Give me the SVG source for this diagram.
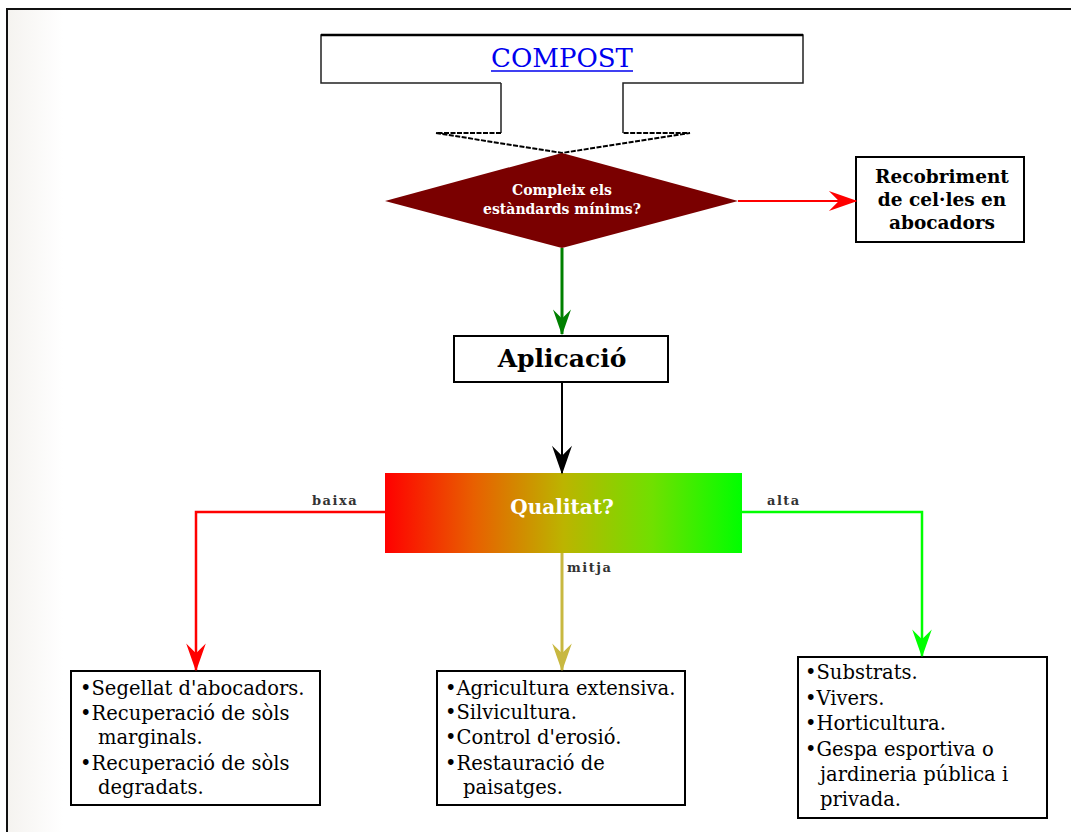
<svg xmlns="http://www.w3.org/2000/svg" width="1071" height="832" viewBox="0 0 1071 832">
<defs>
<linearGradient id="edge" x1="0" y1="0" x2="1" y2="0">
<stop offset="0" stop-color="#f5f3f0"/>
<stop offset="1" stop-color="#ffffff"/>
</linearGradient>
<linearGradient id="qual" x1="0" y1="0" x2="1" y2="0">
<stop offset="0" stop-color="#ff0000"/>
<stop offset="0.25" stop-color="#e86000"/>
<stop offset="0.5" stop-color="#bcb400"/>
<stop offset="0.75" stop-color="#70e000"/>
<stop offset="1" stop-color="#00ff00"/>
</linearGradient>
<marker id="aR" viewBox="0 0 20 14" refX="19" refY="7" markerWidth="30" markerHeight="20" markerUnits="userSpaceOnUse" orient="auto"><path d="M0,0 L20,7 L0,14 L7,7 z" fill="#ff0000"/></marker>
<marker id="aG" viewBox="0 0 20 14" refX="19" refY="7" markerWidth="28" markerHeight="18" markerUnits="userSpaceOnUse" orient="auto"><path d="M0,0 L20,7 L0,14 L7,7 z" fill="#008000"/></marker>
<marker id="aK" viewBox="0 0 20 14" refX="19" refY="7" markerWidth="30" markerHeight="20" markerUnits="userSpaceOnUse" orient="auto"><path d="M0,0 L20,7 L0,14 L7,7 z" fill="#000000"/></marker>
<marker id="aR2" viewBox="0 0 20 14" refX="19" refY="7" markerWidth="28" markerHeight="20" markerUnits="userSpaceOnUse" orient="auto"><path d="M0,0 L20,7 L0,14 L7,7 z" fill="#ff0000"/></marker>
<marker id="aY" viewBox="0 0 20 14" refX="19" refY="7" markerWidth="28" markerHeight="20" markerUnits="userSpaceOnUse" orient="auto"><path d="M0,0 L20,7 L0,14 L7,7 z" fill="#c8b840"/></marker>
<marker id="aL" viewBox="0 0 20 14" refX="19" refY="7" markerWidth="28" markerHeight="20" markerUnits="userSpaceOnUse" orient="auto"><path d="M0,0 L20,7 L0,14 L7,7 z" fill="#00ff00"/></marker>
</defs>
<style>
.box{fill:#ffffff;stroke:#000;stroke-width:2}
.t{font-family:"DejaVu Serif","Liberation Serif",serif;fill:#000}
.b{font-weight:bold}
.li{font-size:19.5px}
.lbl{font-family:"DejaVu Serif","Liberation Serif",serif;font-size:13px;font-weight:bold;fill:#333;letter-spacing:1.5px}
.c{fill:none}
</style>
<rect x="0" y="0" width="1071" height="832" fill="#ffffff"/>
<rect x="8" y="10" width="55" height="822" fill="url(#edge)"/>
<path d="M7,832 V9 H1071" fill="none" stroke="#111" stroke-width="2"/>

<g id="compost">
<path d="M501,83 H321 V35 H803 V83 H623 V133 M501,83 V133" fill="#fff" stroke="#222" stroke-width="1.5"/>
<path d="M321,35 H803" stroke="#000" stroke-width="2.5"/>
<path d="M501,133 H436 L562,153 L690,133 H623" fill="none" stroke="#000" stroke-width="2" stroke-dasharray="5,1.5"/>
<text class="t" x="562" y="67" text-anchor="middle" font-size="26" style="fill:#0000ee">COMPOST</text>
<line x1="491" y1="71" x2="633" y2="71" stroke="#0000ee" stroke-width="1.5"/>
</g>

<g id="decisio">
<polygon points="385,201 562,153 738,201 562,248" fill="#7a0000"/>
<text class="t b" x="562" y="195" text-anchor="middle" font-size="14" style="fill:#fff">Compleix els</text>
<text class="t b" x="562" y="214" text-anchor="middle" font-size="14" style="fill:#fff">estàndards mínims?</text>
</g>

<g id="recobriment">
<rect class="box" x="856" y="157" width="168" height="85"/>
<text class="t b" x="942" y="183" text-anchor="middle" font-size="18.5">Recobriment</text>
<text class="t b" x="942" y="206" text-anchor="middle" font-size="18.5">de cel·les en</text>
<text class="t b" x="942" y="229" text-anchor="middle" font-size="18.5">abocadors</text>
</g>

<g id="aplicacio">
<rect class="box" x="454" y="336" width="214" height="46"/>
<text class="t b" x="562" y="367" text-anchor="middle" font-size="25">Aplicació</text>
</g>

<g id="qualitat">
<rect x="385" y="473" width="357" height="80" fill="url(#qual)"/>
<text class="t b" x="562" y="514" text-anchor="middle" font-size="20" style="fill:#fff">Qualitat?</text>
</g>

<g id="baixa">
<rect class="box" x="71" y="671" width="249" height="134"/>
<text class="t li" x="80" y="695">•Segellat d'abocadors.</text>
<text class="t li" x="80" y="720">•Recuperació de sòls</text>
<text class="t li" x="98" y="744">marginals.</text>
<text class="t li" x="80" y="770">•Recuperació de sòls</text>
<text class="t li" x="98" y="794">degradats.</text>
</g>

<g id="mitja">
<rect class="box" x="437" y="671" width="248" height="134"/>
<text class="t li" x="445" y="695">•Agricultura extensiva.</text>
<text class="t li" x="445" y="719">•Silvicultura.</text>
<text class="t li" x="445" y="744">•Control d'erosió.</text>
<text class="t li" x="445" y="770">•Restauració de</text>
<text class="t li" x="463" y="794">paisatges.</text>
</g>

<g id="alta">
<rect class="box" x="798" y="657" width="249" height="161"/>
<text class="t li" x="805" y="679">•Substrats.</text>
<text class="t li" x="805" y="705">•Vivers.</text>
<text class="t li" x="805" y="730">•Horticultura.</text>
<text class="t li" x="805" y="756">•Gespa esportiva o</text>
<text class="t li" x="820" y="781">jardineria pública i</text>
<text class="t li" x="820" y="806">privada.</text>
</g>

<g id="connectors">
<line x1="738" y1="201" x2="856" y2="201" stroke="#ff0000" stroke-width="2" marker-end="url(#aR)"/>
<line x1="562" y1="248" x2="562" y2="334" stroke="#008000" stroke-width="3" marker-end="url(#aG)"/>
<line x1="562" y1="382" x2="562" y2="473" stroke="#000" stroke-width="2" marker-end="url(#aK)"/>
<polyline class="c" points="385,512 196,512 196,670" stroke="#ff0000" stroke-width="2.5" marker-end="url(#aR2)"/>
<line x1="562" y1="553" x2="562" y2="670" stroke="#c8b840" stroke-width="3" marker-end="url(#aY)"/>
<polyline class="c" points="742,512 922,512 922,656" stroke="#00ff00" stroke-width="2.5" marker-end="url(#aL)"/>
<text class="lbl" x="312" y="505">baixa</text>
<text class="lbl" x="767" y="505">alta</text>
<text class="lbl" x="567" y="572">mitja</text>
</g>
</svg>
